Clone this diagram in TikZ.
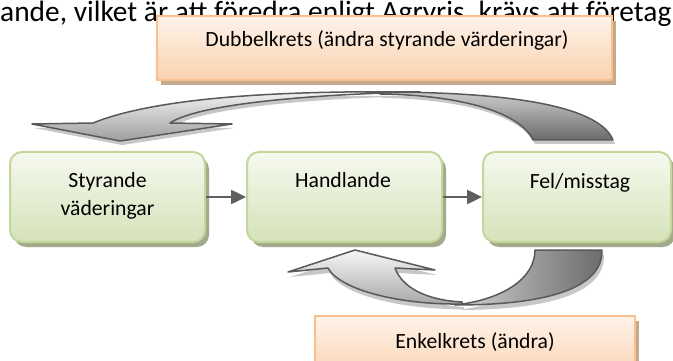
\documentclass[tikz,border=0pt]{standalone}
\usepackage{fontspec}
\setmainfont{Carlito}
\usetikzlibrary{arrows.meta,shadows}

\definecolor{greenTop}{HTML}{F6F9EF}
\definecolor{greenBot}{HTML}{D5E2B9}
\definecolor{greenLine}{HTML}{C3D69B}
\definecolor{greenShadow}{HTML}{A3AA8C}
\definecolor{peachTop}{HTML}{FEF3EA}
\definecolor{peachBot}{HTML}{FAD2B0}
\definecolor{peachLine}{HTML}{F9BF8F}
\definecolor{peachShadow}{HTML}{C4A98D}
\definecolor{arrowLine}{HTML}{595959}
\definecolor{connGray}{HTML}{5F5F5F}

% outlines of the two curved loop arrows
\newcommand\UpperBackPath{(380,92) .. controls (520,92) and (600,108) .. (613,140)
  -- (533,140) .. controls (520,112) and (460,95) .. (380,94) -- cycle}
\newcommand\UpperFrontPath{(93,123) .. controls (150,100) and (260,90) .. (420,92)
  .. controls (320,94) and (200,103) .. (170,123) -- (232,124) -- (120,141)
  -- (32,124) -- cycle}
\newcommand\LowerBackPath{(535,250) -- (602,250) .. controls (603,288) and (548,305) .. (455,305)
  .. controls (500,300) and (535,280) .. (535,250) -- cycle}
\newcommand\LowerFrontPath{(462,304) .. controls (400,305) and (340,290) .. (328,268)
  -- (288,272) -- (355,250) -- (435,270) -- (395,268)
  .. controls (402,287) and (425,300) .. (462,302) -- cycle}

\begin{document}
\begin{tikzpicture}[x=1pt,y=-1pt,
  txt/.style={font=\fontsize{21.7}{28}\selectfont, text=black, inner sep=0pt},
  greenbox/.style={draw=greenLine, line width=2pt, rounded corners=12pt,
    top color=greenTop, bottom color=greenBot, minimum height=90pt, inner sep=0pt,
    drop shadow={shadow xshift=4pt, shadow yshift=-5pt, fill=greenShadow, opacity=1}},
  peachbox/.style={draw=peachLine, line width=2pt,
    top color=peachTop, bottom color=peachBot, inner sep=0pt,
    drop shadow={shadow xshift=4pt, shadow yshift=-5pt, fill=peachShadow, opacity=1}},
  conn/.style={draw=connGray, line width=2.5pt, -{Triangle[length=15pt,width=14pt]}},
  loopline/.style={draw=arrowLine, line width=1.5pt, line join=round},
  loopshadow/.style={fill=black!22},
]
\useasboundingbox (0,0) rectangle (673,361);
\clip (0,0) rectangle (673,361);
\fill[white] (0,0) rectangle (673,361);

% running text of the page behind the figure
\node[anchor=base west, font=\fontsize{29.4}{30}\selectfont, inner sep=0pt] (prose) at (0,22)
  {ande, vilket är att föredra enligt Agryris, krävs att företag};

% the three process boxes
\node[greenbox, minimum width=195pt] (b1) at (107.5,197) {};
\node[greenbox, minimum width=195pt] (b2) at (344.5,197) {};
\node[greenbox, minimum width=188pt] (b3) at (577,197) {};
\node[txt, anchor=base] (t1a) at (107.5,187) {Styrande};
\node[txt, anchor=base] (t1b) at (107.5,215) {väderingar};
\node[txt, anchor=base] (t2) at (343,187) {Handlande};
\node[txt, anchor=base] (t3) at (580,188) {Fel/misstag};

% straight connectors
\draw[conn] (b1.east) -- (b2.west);
\draw[conn] (b2.east) -- (b3.west);

% upper loop arrow (double loop)
\begin{scope}[shift={(2,4)}]
  \fill[loopshadow] \UpperBackPath;
  \fill[loopshadow] \UpperFrontPath;
\end{scope}
\path[loopline, top color=black!20, bottom color=black!58] \UpperBackPath;
\path[loopline, top color=black!4, bottom color=black!38] \UpperFrontPath;

% lower loop arrow (single loop)
\begin{scope}[shift={(2,5)}]
  \fill[loopshadow] \LowerBackPath;
  \fill[loopshadow] \LowerFrontPath;
\end{scope}
\path[loopline, left color=black!18, right color=black!58] \LowerBackPath;
\path[loopline, top color=black!3, bottom color=black!35] \LowerFrontPath;

% loop labels
\node[peachbox, minimum width=455pt, minimum height=64pt] (dbl) at (384.5,48) {};
\node[txt, anchor=base] (dbltxt) at (387,47) {Dubbelkrets (ändra styrande värderingar)};
\node[peachbox, minimum width=320pt, minimum height=64pt] (sgl) at (475,348) {};
\node[txt, anchor=base] (sgltxt) at (475,348) {Enkelkrets (ändra)};
\end{tikzpicture}
\end{document}
